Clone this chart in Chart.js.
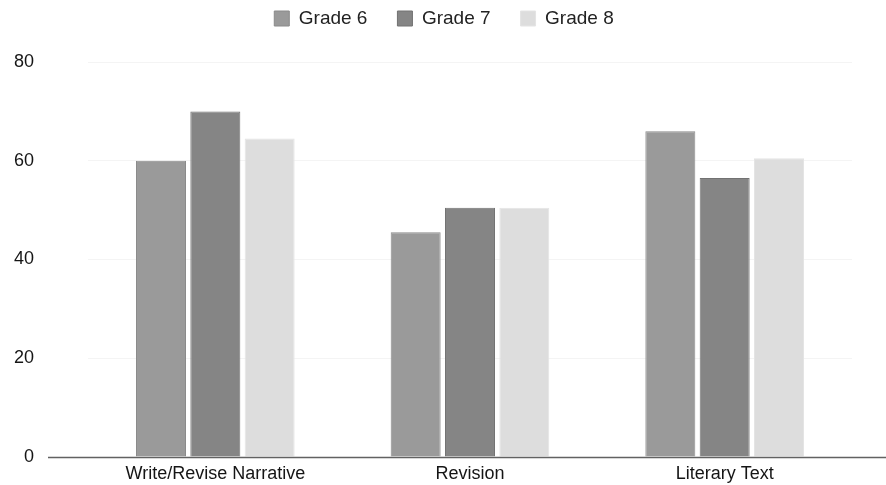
<!DOCTYPE html>
<html>
<head>
<meta charset="utf-8">
<script src="https://cdn.jsdelivr.net/npm/chart.js@4.4.1/dist/chart.umd.min.js"></script>
<style>
  html, body { margin: 0; padding: 0; background: #fff; }
  canvas { display: block; }
</style>
</head>
<body>
<canvas id="gradeChart" width="886" height="485"></canvas>
<script>
// categorias e valores
const categories = ['Write/Revise Narrative', 'Revision', 'Literary Text'];
const grade6 = [60, 45.5, 66];
const grade7 = [70, 50.5, 56.5];
const grade8 = [64.5, 50.5, 60.5];
const yTicks = [0, 20, 40, 60, 80];

// linha de base estendida para a esquerda + legenda reposicionada
const tweaks = {
    id: 'tweaks',
    afterLayout(chart) {
        const lg = chart.legend;
        const h = lg.height;
        lg.top = -21;
        lg.bottom = lg.top + h;
        lg.left += 12;
        lg.right += 12;
    },
    afterDatasetsDraw(chart) {
        const { ctx, scales } = chart;
        const y = Math.round(scales.y.getPixelForValue(0)) + 0.5;
        ctx.save();
        ctx.strokeStyle = '#626262';
        ctx.lineWidth = 1.5;
        ctx.beginPath();
        ctx.moveTo(48, y);
        ctx.lineTo(chart.width, y);
        ctx.stroke();
        ctx.restore();
    }
};

const ctx = document.getElementById('gradeChart').getContext('2d');
new Chart(ctx, {
    type: 'bar',
    data: {
        labels: categories,
        datasets: [
            { label: 'Grade 6', data: grade6, backgroundColor: '#9a9a9a', borderColor: '#8a8a8a', borderWidth: 1 },
            { label: 'Grade 7', data: grade7, backgroundColor: '#858585', borderColor: '#727272', borderWidth: 1 },
            { label: 'Grade 8', data: grade8, backgroundColor: '#dddddd', borderColor: '#e4e4e4', borderWidth: 1 }
        ]
    },
    options: {
        responsive: false,
        animation: false,
        layout: { padding: { left: 12, right: 34, top: 3, bottom: 0 } },
        datasets: { bar: { barPercentage: 0.92, categoryPercentage: 0.64 } },
        plugins: {
            legend: {
                position: 'top',
                labels: {
                    color: '#222',
                    font: { family: 'Liberation Sans', size: 19 },
                    boxWidth: 15,
                    boxHeight: 15,
                    padding: 30
                }
            },
            tooltip: { enabled: false }
        },
        scales: {
            x: {
                afterFit: (scale) => { scale.height = 28; },
                grid: { display: false, drawTicks: false },
                border: { display: false },
                ticks: { color: '#151515', font: { family: 'Liberation Sans', size: 18 }, padding: 6, maxRotation: 0 }
            },
            y: {
                min: 0,
                max: 80,
                afterBuildTicks: (scale) => { scale.ticks = yTicks.map(v => ({ value: v })); },
                afterFit: (scale) => { scale.width = 76; },
                grid: { color: '#f4f4f4', drawTicks: true, tickLength: 48, tickColor: 'rgba(0,0,0,0)' },
                border: { display: false },
                ticks: { color: '#151515', font: { family: 'Liberation Sans', size: 18 }, padding: 6 }
            }
        }
    },
    plugins: [tweaks]
});
</script>
</body>
</html>
